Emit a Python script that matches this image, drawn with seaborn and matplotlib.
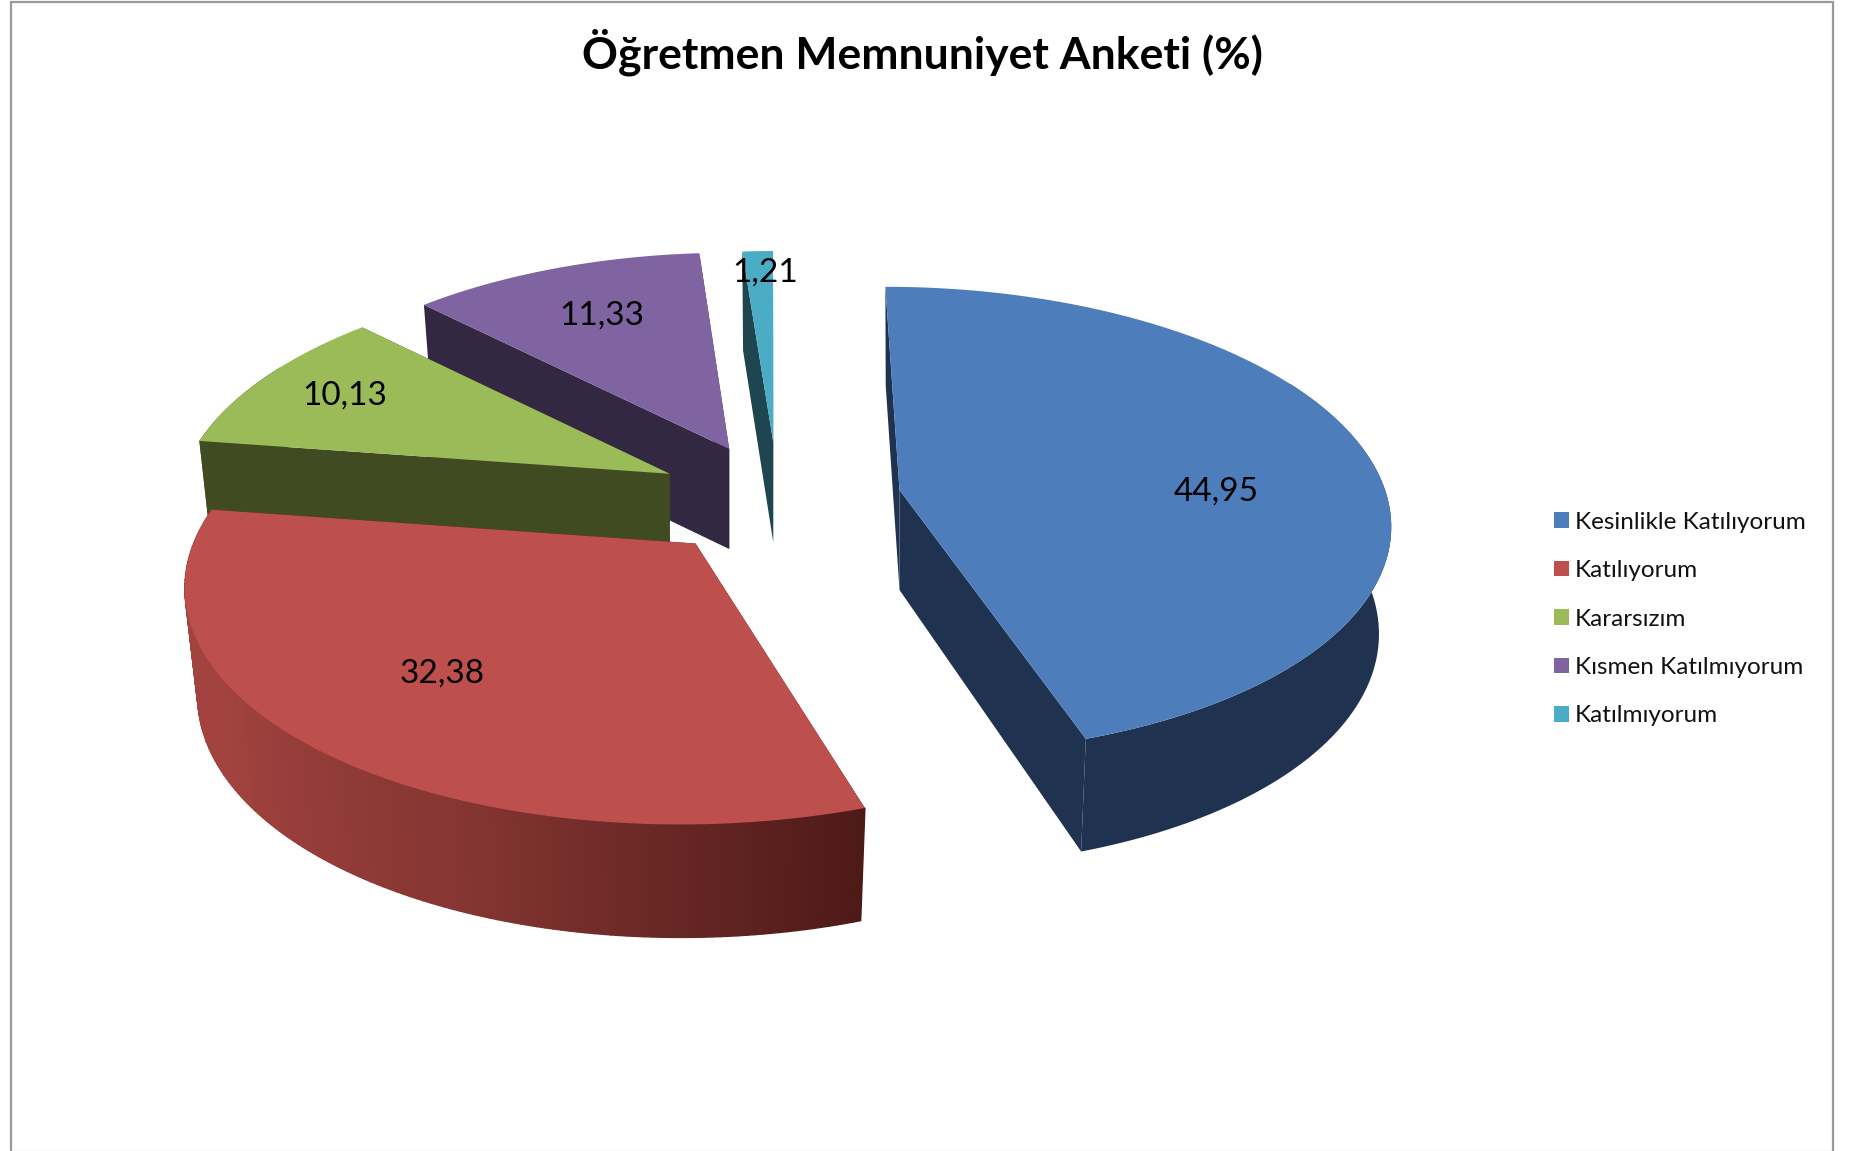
import numpy as np
import seaborn as sns
import matplotlib.pyplot as plt
from matplotlib.patches import Patch, Polygon, Rectangle

categories = ["Kesinlikle Katılıyorum", "Katılıyorum", "Kararsızım", "Kısmen Katılmıyorum", "Katılmıyorum"]
values = [44.95, 32.38, 10.13, 11.33, 1.21]
value_labels = ["44,95", "32,38", "10,13", "11,33", "1,21"]
title = "Öğretmen Memnuniyet Anketi (%)"

top_colors = ["#4d7ebb", "#bd4f4c", "#9bbb59", "#8064a2", "#4bacc6"]
side_colors = ["#1f3350", "#a3433f", "#404b21", "#322842", "#1f4650"]
explode = [0.27, 0.22, 0.23, 0.22, 0.25]
nudge_x = [-4, -5, 1, 4, 7]
nudge_y = [0, 4, -2, -4, 1]
slice_scale = [0.977, 1.01, 0.98, 0.965, 0.94]
persp = [0.13, 0.155, 0.155, 0.155, 0.155]
shear = [0.11, 0.20, 0.05, 0.04, 0.11]
label_radius = [0.66, 0.68, 0.80, 0.71, 0.90]
label_shift_x = [8, 4, -1, -4, 6]
label_shift_y = [25, -10, -1, -5, 2]

# Projektion des Kreises (alles in Pixeln des Bildes)
CX, CY = 771, 500
RX, RY = 497, 235


def project(theta, i, off):
    x, y = np.sin(theta), np.cos(theta)
    f = slice_scale[i] / (1 + persp[i] * y)
    return x * RX * f - shear[i] * off * y, -y * RY * f


def drop(px, py, ax0, theta=None):
    # Unterkante eines Punktes: leicht nach innen, Hoehe je nach Lage
    h = 100 if theta is None else 106 - 7 * np.cos(theta)
    return ax0 + (px - ax0) * 0.975, py + h


sns.set_theme(style="white")
plt.rcParams["font.family"] = ["Lato", "DejaVu Sans"]

fig = plt.figure(figsize=(18.54, 11.51), dpi=100)
ax = fig.add_axes([0, 0, 1, 1])
ax.set_xlim(0, 1854)
ax.set_ylim(1151, 0)
ax.axis("off")
ax.add_patch(Rectangle((11.5, 1.5), 1821.5, 1150, fill=False, ec="#9a9a9a", lw=1.6))

edges = np.cumsum([0] + values) / 100 * 2 * np.pi
top_pal = sns.color_palette(top_colors)
side_pal = sns.color_palette(side_colors)

# von hinten nach vorne zeichnen
for i in [4, 3, 2, 1, 0]:
    t0, t1 = edges[i], edges[i + 1]
    mid = (t0 + t1) / 2
    ox = CX + explode[i] * np.sin(mid) * RX + nudge_x[i]
    oy = CY - explode[i] * np.cos(mid) * RY + nudge_y[i]
    off = ox - CX
    mx, my = project(mid, i, off)
    thetas = np.linspace(t0, t1, 140)
    px, py = project(thetas, i, off)
    px, py = ox + px, oy + py
    z = 20 - i * 3

    # Schnittflaechen
    ax0, ay0 = drop(ox, oy, ox)
    for k in [0, -1]:
        bx, by = drop(px[k], py[k], ox, thetas[k])
        face = [(ox, oy), (px[k], py[k]), (bx, by), (ax0, ay0)]
        ax.add_patch(Polygon(face, fc=side_pal[i] if i != 1 else "#4e1a18", ec="none", zorder=z))

    # Mantel, nur der sichtbare Teil; Rot bekommt einen Verlauf
    vis = np.cos(thetas) < 0.5
    bx, by = drop(px, py, ox, thetas)
    if i == 1:
        shades = sns.blend_palette(["#4e1a18", "#843532", "#a3433f", "#a3433f"], len(thetas))
        for k in range(len(thetas) - 1):
            if vis[k]:
                quad = [(px[k], py[k]), (px[k + 1], py[k + 1]), (bx[k + 1], by[k + 1]), (bx[k], by[k])]
                ax.add_patch(Polygon(quad, fc=shades[k], ec=shades[k], lw=1.0, zorder=z + 1))
    elif vis.sum() > 1:
        outline = np.column_stack([np.r_[px[vis], bx[vis][::-1]], np.r_[py[vis], by[vis][::-1]]])
        ax.add_patch(Polygon(outline, fc=side_pal[i], ec="none", zorder=z + 1))

    ax.add_patch(Polygon(np.column_stack([np.r_[ox, px], np.r_[oy, py]]), fc=top_pal[i], ec="none", zorder=z + 2))

    ax.text(ox + label_radius[i] * mx + label_shift_x[i], oy + label_radius[i] * my + label_shift_y[i], value_labels[i],
            ha="center", va="center", fontsize=24, color="black", zorder=40)

ax.text(922, 52, title, ha="center", va="center", fontsize=32, fontweight="bold", color="black")

handles = [Patch(fc=c, ec="none") for c in top_pal]
ax.legend(handles, categories, loc="center left", bbox_to_anchor=(1554, 619), bbox_transform=ax.transData,
          frameon=False, fontsize=17.5, handlelength=0.62, handleheight=0.62, handletextpad=0.25,
          labelspacing=1.13, borderpad=0, borderaxespad=0, labelcolor="#111111")

plt.savefig("out.png", dpi=100)
